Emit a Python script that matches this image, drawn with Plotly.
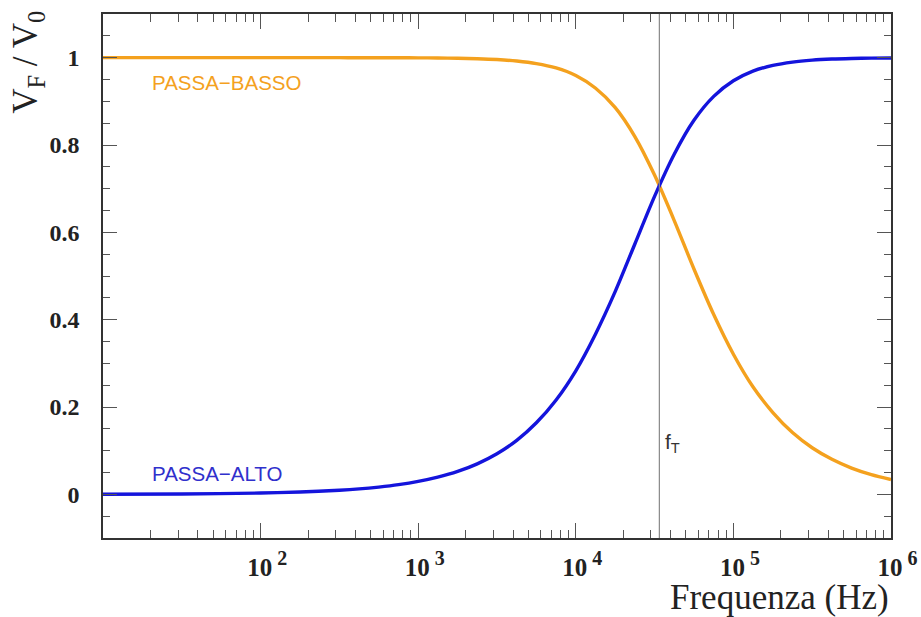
import plotly.graph_objects as go

# frequencies (Hz) read along the log axis
freq = [10, 31.6, 100, 178, 316, 422, 562, 750, 1000, 1330, 1780, 2370, 3160, 4220,
        5620, 7500, 10000, 13300, 17800, 23700, 31600, 42200, 56200, 75000, 100000,
        133000, 178000, 237000, 316000, 422000, 562000, 750000, 1000000]
passa_basso = [1.0, 1.0, 1.0, 1.0, 1.0, 0.9999, 0.9999, 0.9998, 0.9996, 0.9992, 0.9986,
               0.9976, 0.9957, 0.9923, 0.9865, 0.9764, 0.9591, 0.9305, 0.8855, 0.8193,
               0.7311, 0.6264, 0.5161, 0.4118, 0.3209, 0.2463, 0.1872, 0.1414, 0.1066,
               0.0801, 0.0601, 0.0451, 0.0339]
passa_alto = [0.0003, 0.0009, 0.003, 0.0053, 0.0093, 0.0124, 0.0166, 0.0221, 0.0295,
              0.0393, 0.0524, 0.0698, 0.0929, 0.1235, 0.1638, 0.2161, 0.2830, 0.3662,
              0.4647, 0.5733, 0.6823, 0.7795, 0.8566, 0.9113, 0.9470, 0.9692, 0.9823,
              0.9899, 0.9943, 0.9968, 0.9982, 0.9990, 0.9994]
f_T = 33900

x_tickvals = [100, 1000, 10000, 100000, 1000000]
x_exponents = ["2", "3", "4", "5", "6"]
x_ticktext = ["<span style='color:rgba(0,0,0,0)'><sup><b> %s</b></sup></span><b>10</b>"
              "<sup><span style='font-size:20px'><b> %s</b></span></sup>" % (e, e)
              for e in x_exponents]
y_tickvals = [0, 0.2, 0.4, 0.6, 0.8, 1.0]
y_ticktext = ["<b>0</b>", "<b>0.2</b>", "<b>0.4</b>", "<b>0.6</b>", "<b>0.8</b>", "<b>1</b>"]

orange = "#f4a11e"
blue = "#1414dc"

fig = go.Figure()
fig.add_trace(go.Scatter(x=freq, y=passa_basso, mode="lines",
                         line=dict(color=orange, width=3.4, shape="spline", smoothing=0.8)))
fig.add_trace(go.Scatter(x=freq, y=passa_alto, mode="lines",
                         line=dict(color=blue, width=3.4, shape="spline", smoothing=0.8)))
fig.add_trace(go.Scatter(x=[f_T, f_T], y=[-0.1, 1.1], mode="lines",
                         line=dict(color="#888888", width=1.2)))

axis_common = dict(showgrid=False, zeroline=False, showline=True, linecolor="#333333",
                   linewidth=1.6, mirror="ticks", ticks="inside", tickcolor="#555555",
                   automargin=False)

fig.update_xaxes(type="log", range=[1, 6], tickvals=x_tickvals, ticktext=x_ticktext,
                 ticklen=15, ticklabelstandoff=6,
                 minor=dict(ticks="inside", ticklen=8, dtick="D1", tickcolor="#555555"),
                 tickfont=dict(family="Liberation Serif", size=25, color="#222222"),
                 **axis_common)
fig.update_yaxes(range=[-0.1, 1.1], tickvals=y_tickvals, ticktext=y_ticktext,
                 ticklen=14, ticklabelstandoff=17,
                 minor=dict(ticks="inside", ticklen=7, dtick=0.05, tickcolor="#555555"),
                 tickfont=dict(family="Liberation Serif", size=24, color="#222222"),
                 **axis_common)

fig.add_annotation(text="V<sub>F</sub> / V<sub>0</sub>", xref="paper", yref="paper",
                   x=-0.095, y=0.907, xanchor="center", yanchor="middle", textangle=-90,
                   showarrow=False,
                   font=dict(family="Liberation Serif", size=35, color="#222222"))
fig.add_annotation(text="Frequenza (Hz)", xref="paper", yref="paper",
                   x=1.0, y=-0.113, xanchor="right", yanchor="middle", showarrow=False,
                   font=dict(family="Liberation Serif", size=35, color="#222222"))
fig.add_annotation(text="PASSA−BASSO", x=1.30, y=0.943, xref="x", yref="y",
                   xanchor="left", yanchor="middle", showarrow=False,
                   font=dict(family="Liberation Sans", size=20.5, color=orange))
fig.add_annotation(text="PASSA−ALTO", x=1.30, y=0.048, xref="x", yref="y",
                   xanchor="left", yanchor="middle", showarrow=False,
                   font=dict(family="Liberation Sans", size=20.5, color="#3030cc"))
fig.add_annotation(text="f<sub>T</sub>", x=4.553, y=0.117, xref="x", yref="y",
                   xanchor="left", yanchor="middle", showarrow=False,
                   font=dict(family="Liberation Sans", size=21, color="#333333"))

fig.update_layout(width=921, height=617, showlegend=False,
                  plot_bgcolor="white", paper_bgcolor="white",
                  margin=dict(l=103, r=30, t=14, b=79))

fig.write_html("out.html", config={"displayModeBar": False},
               post_script="document.body.style.margin='0';")
